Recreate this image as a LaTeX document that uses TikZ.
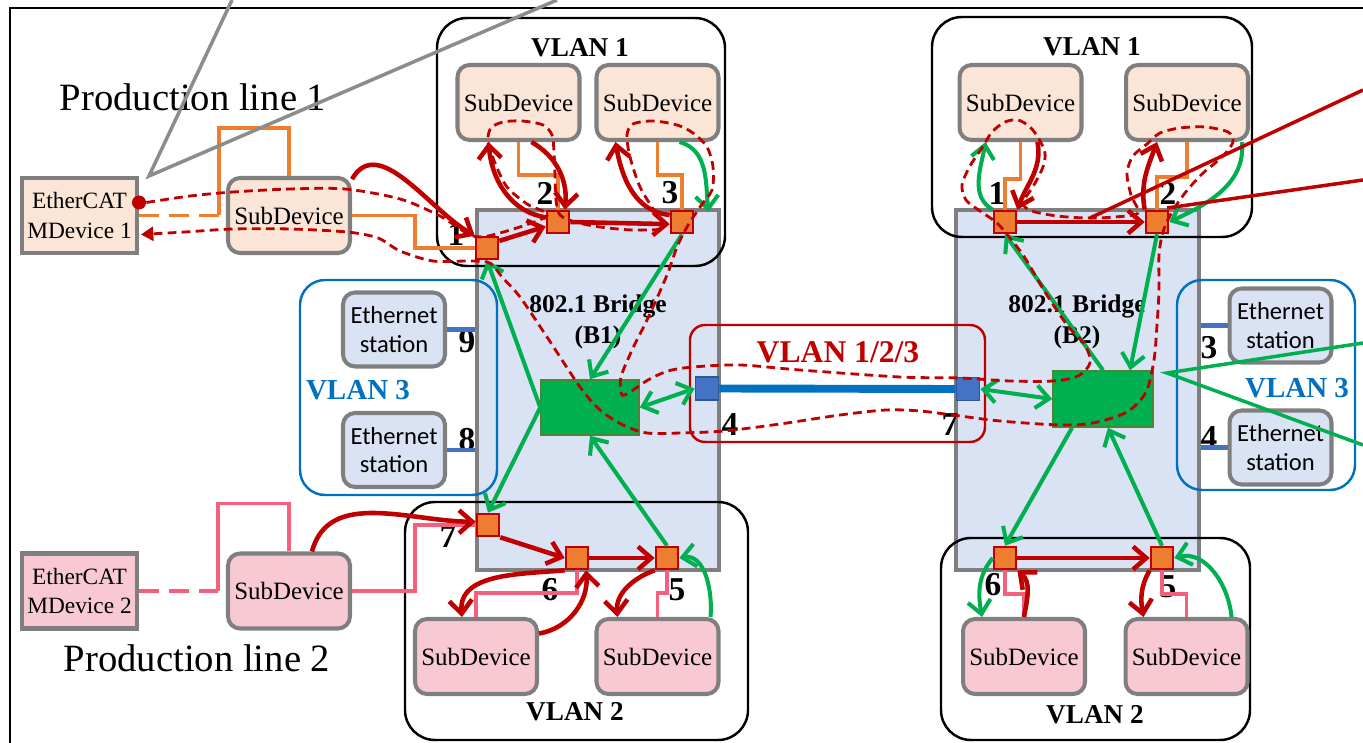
\documentclass[tikz,border=0pt]{standalone}
\usepackage{fontspec}
\setmainfont{Liberation Serif}
\newfontfamily\calfont{Carlito}
\usetikzlibrary{arrows.meta,calc}
\definecolor{dkred}{HTML}{C00000}
\definecolor{grn}{HTML}{00B050}
\definecolor{grdk}{HTML}{548235}
\definecolor{orl}{HTML}{ED7D31}
\definecolor{pinkl}{HTML}{F4607C}
\definecolor{peach}{HTML}{FBE5D6}
\definecolor{pinkf}{HTML}{F9C9D3}
\definecolor{bfill}{HTML}{DAE3F3}
\definecolor{gbord}{HTML}{7F7F7F}
\definecolor{vblue}{HTML}{0070C0}
\definecolor{pblue}{HTML}{4472C4}
\definecolor{pbluedk}{HTML}{2F5597}
\definecolor{callgray}{HTML}{8C8C8C}
\begin{document}
\begin{tikzpicture}[x=0.02cm,y=-0.02cm,
  >={Straight Barb[length=7.5pt,width=13pt]},
  sub/.style={draw=gbord, line width=2.3pt, rounded corners=0.24cm, minimum width=2.44cm, minimum height=1.5cm, inner sep=0pt, font=\fontsize{14.2}{16}\selectfont},
  subA/.style={sub, fill=peach},
  subB/.style={sub, fill=pinkf},
  mdev/.style={draw=gbord, line width=2.3pt, minimum width=2.3cm, minimum height=1.5cm, inner sep=0pt, align=center, font=\fontsize{13.3}{17}\selectfont},
  eth/.style={draw=gbord, line width=2.3pt, rounded corners=0.24cm, fill=bfill, minimum width=2.04cm, minimum height=1.48cm, inner sep=0pt, align=center, font=\calfont\fontsize{14}{16}\selectfont},
  bridge/.style={draw=gbord, line width=2.4pt, fill=bfill, inner sep=0pt},
  blabel/.style={align=center, font=\bfseries\fontsize{14.5}{17.6}\selectfont, inner sep=0pt},
  oport/.style={draw=dkred, line width=1.2pt, fill=orl, minimum size=0.45cm, inner sep=0pt},
  bport/.style={draw=pbluedk, line width=1pt, fill=pblue, minimum size=0.46cm, inner sep=0pt},
  gbox/.style={draw=grdk, line width=0.9pt, fill=grn, inner sep=0pt},
  vlanbox/.style={draw=black, line width=1.4pt, rounded corners=0.6cm},
  vlanthree/.style={draw=vblue, line width=1.4pt, rounded corners=0.5cm},
  vlanall/.style={draw=dkred, line width=1.4pt, rounded corners=0.3cm},
  vlbl/.style={font=\bfseries\fontsize{15.5}{15.5}\selectfont, inner sep=0pt},
  num/.style={font=\bfseries\fontsize{19}{19}\selectfont, inner sep=0pt},
  prod/.style={font=\fontsize{22}{22}\selectfont, inner sep=0pt},
  oline/.style={draw=orl, line width=2.1pt},
  pline/.style={draw=pinkl, line width=2.1pt},
  sline/.style={draw=pblue, line width=2.3pt},
  isl/.style={draw=vblue, line width=4.5pt},
  rarr/.style={draw=dkred, line width=2.6pt, ->},
  garr/.style={draw=grn, line width=2.3pt, ->},
  gdarr/.style={draw=grn, line width=2.3pt, <->},
  rdash/.style={draw=dkred, line width=1.6pt, dash pattern=on 5pt off 3pt},
  callg/.style={draw=callgray, line width=2pt},
  callr/.style={draw=dkred, line width=2pt},
  callgr/.style={draw=grn, line width=2pt}
]
\useasboundingbox (0,0) rectangle (1363,743);
\draw[line width=1.4pt] (10,743) -- (10,8) -- (1363,8);
% bridges
\node[bridge, minimum width=4.84cm, minimum height=7.2cm] (br1) at (598,390) {};
\node[bridge, minimum width=4.86cm, minimum height=7.2cm] (br2) at (1077.5,390) {};
\node[blabel] (bl1) at (598,322) {802.1 Bridge\\(B1)};
\node[blabel] (bl2) at (1077,322) {802.1 Bridge\\(B2)};
% VLAN boxes
\draw[vlanbox] (437,18) rectangle (725,266);
\draw[vlanbox] (932,17) rectangle (1252,237);
\draw[vlanbox] (405,502) rectangle (748,740);
\draw[vlanbox] (941,538) rectangle (1250,740);
\draw[vlanthree] (300,280) rectangle (497,495);
\draw[vlanthree] (1177,280) rectangle (1355,490);
\draw[vlanall] (690,325) rectangle (985,442);
\node[vlbl] (t1) at (580,48) {VLAN 1};
\node[vlbl] (t2) at (1092,47) {VLAN 1};
\node[vlbl] (t3) at (575,712) {VLAN 2};
\node[vlbl] (t4) at (1095,715) {VLAN 2};
\node[vlbl, text=vblue, font=\bfseries\fontsize{16.5}{16.5}\selectfont] (t5) at (358,390) {VLAN 3};
\node[vlbl, text=vblue, font=\bfseries\fontsize{16.5}{16.5}\selectfont] (t6) at (1297,388) {VLAN 3};
\node[vlbl, text=dkred, font=\bfseries\fontsize{18}{18}\selectfont] (t7) at (838,352) {VLAN 1/2/3};
\node[prod] (pl1) at (193,97) {Production line 1};
\node[prod] (pl2) at (197,658) {Production line 2};
% devices
\node[mdev, fill=peach] (md1) at (79.5,215.5) {EtherCAT\\MDevice 1};
\node[mdev, fill=pinkf] (md2) at (79.5,591) {EtherCAT\\MDevice 2};
\node[subA] (sd0) at (289,215.5) {SubDevice};
\node[subB] (sd0b) at (289,591) {SubDevice};
\node[subA] (sdA) at (518.5,102.5) {SubDevice};
\node[subA] (sdB) at (657.5,102.5) {SubDevice};
\node[subA] (sdC) at (1020.5,102.5) {SubDevice};
\node[subA] (sdD) at (1187,102.5) {SubDevice};
\node[subB] (sdE) at (476,656.5) {SubDevice};
\node[subB] (sdF) at (657.5,656.5) {SubDevice};
\node[subB] (sdG) at (1024,656.5) {SubDevice};
\node[subB] (sdH) at (1186.5,656.5) {SubDevice};
\node[eth] (e9) at (394,329.5) {Ethernet\\station};
\node[eth] (e8) at (394,450) {Ethernet\\station};
\node[eth] (e3) at (1280.5,325.5) {Ethernet\\station};
\node[eth] (e4) at (1280.5,447.5) {Ethernet\\station};
% green boxes
\node[gbox, minimum width=1.96cm, minimum height=1.1cm] (g1) at (590,407.5) {};
\node[gbox, minimum width=2cm, minimum height=1.12cm] (g2) at (1103,399) {};
% ports
\node[oport] (p1) at (487,248) {};
\node[oport] (p2) at (558,222) {};
\node[oport] (p3) at (682,222) {};
\node[oport] (p7) at (488,525) {};
\node[oport] (p6) at (577,558) {};
\node[oport] (p5) at (667,558) {};
\node[oport] (q1) at (1005,222) {};
\node[oport] (q2) at (1157,222) {};
\node[oport] (q6) at (1005,558) {};
\node[oport] (q5) at (1162,558) {};
\node[bport] (b4) at (707,388.5) {};
\node[bport] (b7) at (968,389) {};
% numbers
\node[num] at (456,234) {1};
\node[num] at (545,193) {2};
\node[num] at (670,193) {3};
\node[num] at (448,537) {7};
\node[num] at (550,590) {6};
\node[num] at (677,590) {5};
\node[num] at (997,193) {1};
\node[num] at (1168,193) {2};
\node[num] at (993,585) {6};
\node[num] at (1168,587) {5};
\node[num] at (467,342) {9};
\node[num] at (467,440) {8};
\node[num] at (1209,348) {3};
\node[num] at (1209,438) {4};
\node[num] at (730,425) {4};
\node[num] at (950,425) {7};
% link lines
\draw[isl] (b4.east) -- (b7.west);
\draw[sline] (e9.east) -- (e9.east -| br1.west);
\draw[sline] (e8.east) -- (e8.east -| br1.west);
\draw[sline] (e3.west) -- (e3.west -| br2.east);
\draw[sline] (e4.west) -- (e4.west -| br2.east);
\coordinate (k1) at ($(md1.east)+(80,0)$);
\coordinate (k2) at ($(md2.east)+(79,0)$);
\draw[oline, dash pattern=on 11.4pt off 5.7pt] (md1.east) -- (k1);
\draw[oline] (k1) |- ($(sd0.north)+(0,-48)$) -- (sd0.north);
\draw[oline] (sd0.east) -- ++(63,0) |- (p1.west);
\draw[pline, dash pattern=on 11.4pt off 5.7pt] (md2.east) -- (k2);
\draw[pline] (k2) |- ($(sd0b.north)+(0,-48)$) -- (sd0b.north);
\draw[pline] (sd0b.east) -- ++(63,0) |- (p7.west);
\draw[oline] (sdA.south) -- ++(0,33) -| (p2.north);
\draw[oline] (sdB.south) -- ++(0,33) -| (p3.north);
\draw[oline] (sdC.south) -- ++(0,37) -| (q1.north);
\draw[oline] (sdD.south) -- ++(0,35) -| (q2.north);
\draw[pline] (sdE.north) -- ++(0,-24) -| (p6.south);
\draw[pline] (sdF.north) -- ++(0,-24) -| (p5.south);
\draw[pline] (sdG.north) -- ++(0,-23) -| (q6.south);
\draw[pline] (sdH.north) -- ++(0,-23) -| (q5.south);
% green arrows
\draw[garr] (g1.west) -- (p1.south);
\draw[garr] (g1.west) -- (p7.north);
\draw[garr] (p3.south) -- (g1.north);
\draw[garr] (p5.north) -- (g1.south);
\draw[gdarr] (g1.east) -- (b4.west);
\draw[garr] (g2.north) -- (q1.south);
\draw[garr] (q2.south) -- ($(g2.north)+(27,0)$);
\draw[gdarr] (b7.east) -- (g2.west);
\draw[garr] ($(g2.south)+(-31,0)$) -- (q6.north);
\draw[garr] (q5.north) -- ($(g2.south)+(5,0)$);
\draw[garr] ($(sdB.south)+(22,0)$) to[out=-15,in=95] ($(p3.east)+(14,-10)$);
\draw[garr] ($(sdF.north east)+(-10,0)$) to[out=85,in=10] (p5.east);
\draw[garr] (q1.north west) to[out=150,in=-100] ($(sdC.south)+(-35,0)$);
\draw[garr] ($(sdD.south east)+(-8,0)$) to[out=-85,in=25] (q2.east);
\draw[garr] (q6.west) to[out=-130,in=100] ($(sdG.north)+(-42,0)$);
\draw[garr] ($(sdH.north east)+(-18,0)$) to[out=95,in=15] (q5.east);
% red arrows
\draw[rarr] (sd0.30) to[out=60,in=150] (p1.north west);
\draw[rarr] (p1.30) -- (p2.200);
\draw[rarr] (p2.east) -- (p3.190);
\draw[rarr] (p2.160) to[out=170,in=-85] ($(sdA.south)+(-30,0)$);
\draw[rarr] ($(sdA.south)+(13,0)$) to[out=-30,in=85] ($(p2.north)+(7,0)$);
\draw[rarr] (p3.150) to[out=175,in=-80] ($(sdB.south)+(-42,0)$);
\draw[rarr] ($(sd0b.north)+(23,0)$) to[out=75,in=180] (p7.165);
\draw[rarr] (p7.south east) -- (p6.west);
\draw[rarr] (p6.east) -- (p5.west);
\draw[rarr] (p6.south west) to[out=185,in=95] ($(sdE.north)+(-14,0)$);
\draw[rarr] (sdE.20) to[out=10,in=-85] ($(p6.south)+(9,0)$);
\draw[rarr] (p5.south west) to[out=200,in=95] ($(sdF.north)+(-40,0)$);
\draw[rarr] (q1.east) -- (q2.west);
\draw[rarr] ($(sdC.south)+(17,0)$) to[out=-80,in=70] (q1.north east);
\draw[rarr] (q2.north west) to[out=100,in=-110] ($(sdD.south)+(-30,0)$);
\draw[rarr] (q6.east) -- (q5.west);
\draw[rarr] (sdG.north) to[out=80,in=-40] (q6.south east);
\draw[rarr] (q5.south west) to[out=-120,in=100] ($(sdH.north)+(-43,0)$);
% EtherCAT frame path (dashed)
\node[circle, fill=dkred, minimum size=0.28cm, inner sep=0pt] (dot) at ($(md1.east)+(0,-13)$) {};
\coordinate (dend) at ($(md1.east)+(2,19)$);
\draw[rdash, -{Triangle[length=7pt,width=8pt]}] plot[smooth, tension=0.5] coordinates {
 (dot.east) (190,196) (233,192) (290,189) (345,189) (400,199) (440,216) (473,236) (500,233) (547,216)
 (527,204) (507,187) (495,163) (488,141) (491,128) (503,122) (522,121) (543,125) (552,135) (554,152)
 (555,175) (556,200) (560,215) (575,222) (600,227) (633,230) (664,228)
 (655,212) (640,187) (630,157) (627,135) (633,124) (653,121) (677,125) (693,133) (707,147) (713,167)
 (712,190) (700,207) (687,227) (677,247) (667,275) (648,318) (633,348) (621,377) (622,395) (633,390)
 (648,380) (668,371) (693,367) (740,365) (800,370) (900,377) (960,378) (1010,381) (1053,381)
 (1078,376) (1090,363) (1085,345) (1067,325) (1045,292) (1025,258) (1010,238) (997,223) (980,211)
 (966,200) (962,185) (970,166) (982,148) (992,132) (1005,122) (1018,120) (1030,127) (1039,139)
 (1045,153) (1043,167) (1034,185) (1023,203) (1032,211) (1057,216) (1087,218) (1115,217) (1138,213)
 (1131,195) (1127,173) (1133,156) (1147,144) (1160,133) (1180,128) (1205,127) (1228,132) (1233,142)
 (1222,157) (1202,174) (1185,193) (1172,212) (1163,232) (1159,255) (1159,290) (1157,325) (1154,360)
 (1146,392) (1127,412) (1093,423) (1060,425) (1000,421) (960,416) (920,411) (886,410) (840,415)
 (780,424) (724,431) (680,433) (647,433) (623,425) (600,410) (580,387) (547,337) (520,297) (502,277)
 (490,263) (470,261) (433,261) (400,251) (378,238) (347,232) (290,229) (233,229) (185,232) (dend)};
% callouts
\coordinate (gapex) at (149,176);
\coordinate (gtop1) at (232,0);
\coordinate (gtop2) at (557,0);
\draw[callg] (gtop1) -- (gapex) -- (gtop2);
\coordinate (rc1) at (1363,90);
\coordinate (rc2) at (1363,180);
\coordinate (rend1) at (1090,218);
\coordinate (rend2) at (1167,208);
\draw[callr] (rc1) -- (rend1);
\draw[callr] (rc2) -- (rend2);
\coordinate (gc1) at (1363,343);
\coordinate (gc2) at (1363,445);
\coordinate (gcapex) at (1167,373);
\draw[callgr] (gc1) -- (gcapex) -- (gc2);
\end{tikzpicture}
\end{document}
